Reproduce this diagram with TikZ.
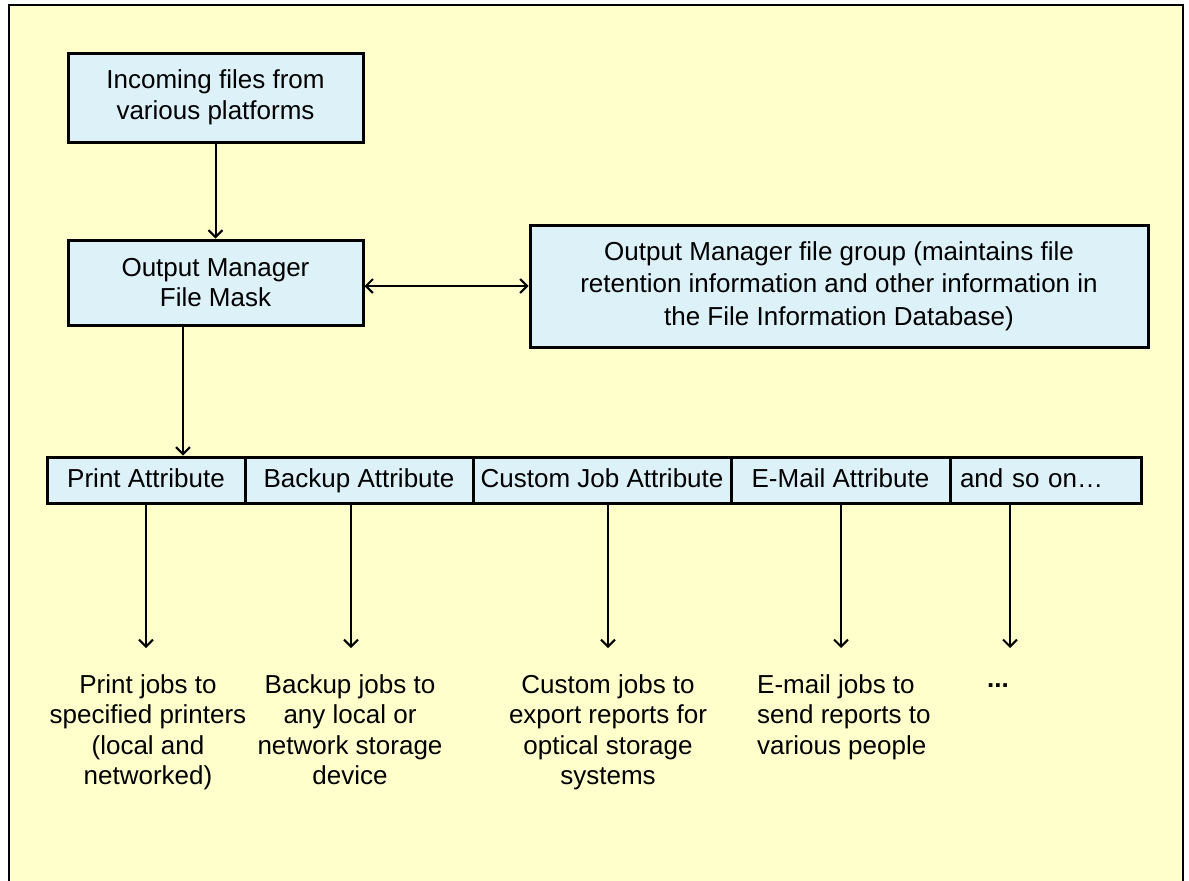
\documentclass[tikz,border=0pt]{standalone}
\usepackage{fontspec}
\setmainfont{Liberation Sans}
\usetikzlibrary{arrows.meta}
\definecolor{bgyellow}{HTML}{FFFFCC}
\definecolor{boxblue}{HTML}{DDF1F8}
\newcommand{\dfont}{\fontsize{26}{30.5}\selectfont}
\begin{document}
\begin{tikzpicture}[x=1pt,y=-1pt,
  box/.style={draw,line width=3pt,fill=boxblue,inner sep=0pt,align=center,font=\dfont},
  cell/.style={draw,line width=3pt,fill=boxblue,inner sep=0pt,minimum height=46pt,text height=19pt,text depth=5pt,font=\dfont},
  jobtext/.style={align=center,font=\dfont,inner sep=0pt,anchor=north},
  arr/.style={line width=2pt,-{Straight Barb[length=7pt,width=14pt,line width=2pt]}},
  darr/.style={line width=2pt,{Straight Barb[length=7pt,width=14pt,line width=2pt]}-{Straight Barb[length=7pt,width=14pt,line width=2pt]}}]
\useasboundingbox (0,0) rectangle (1189,881);
\clip (0,0) rectangle (1189,881);
\draw[line width=2pt,fill=bgyellow] (9,5) rectangle (1183,930);

\node[box,minimum width=295pt,minimum height=89pt] (inc) at (215.5,97.5) {Incoming files from\\various platforms};
\node[box,minimum width=295pt,minimum height=85pt] (mask) at (215.5,282.5) {Output Manager\\File Mask};
\node[box,minimum width=618pt,minimum height=122pt,font=\fontsize{26}{32.5}\selectfont] (group) at (839,286) {Output Manager file group (maintains file\\retention information and other information in\\the File Information Database)};

\node[cell,minimum width=198pt] (print) at (146,480) {Print Attribute};
\node[cell,minimum width=228pt] (backup) at (359,480) {Backup Attribute};
\node[cell,minimum width=258pt] (custom) at (602,480) {Custom Job Attribute};
\node[cell,minimum width=219pt] (email) at (840.5,480) {E-Mail Attribute};
\node[cell,minimum width=191pt,text width=171pt] (soon) at (1045.5,480) {and so on\ldots};

\draw[arr] (inc) -- (mask);
\draw[darr] (mask.east |- group.west) -- (group.west);
\coordinate (m1) at (183,0);
\draw[arr] (m1 |- mask.south) -- (m1 |- print.north);

\coordinate (e1) at (146,648);
\coordinate (e2) at (351,648);
\coordinate (e3) at (608,648);
\coordinate (e4) at (841,648);
\coordinate (e5) at (1010,648);
\draw[arr] (e1 |- print.south) -- (e1);
\draw[arr] (e2 |- backup.south) -- (e2);
\draw[arr] (e3 |- custom.south) -- (e3);
\draw[arr] (e4 |- email.south) -- (e4);
\draw[arr] (e5 |- soon.south) -- (e5);

\node[jobtext] (t1) at (148,674) {Print jobs to\\specified printers\\(local and\\networked)};
\node[jobtext] (t2) at (350,674) {Backup jobs to\\any local or\\network storage\\device};
\node[jobtext] (t3) at (608,674) {Custom jobs to\\export reports for\\optical storage\\systems};
\node[jobtext,align=left,anchor=north west] (t4) at (757,674) {E-mail jobs to\\send reports to\\various people};
\node[font=\dfont\bfseries,inner sep=0pt] (t5) at (998,686) {...};
\end{tikzpicture}
\end{document}
